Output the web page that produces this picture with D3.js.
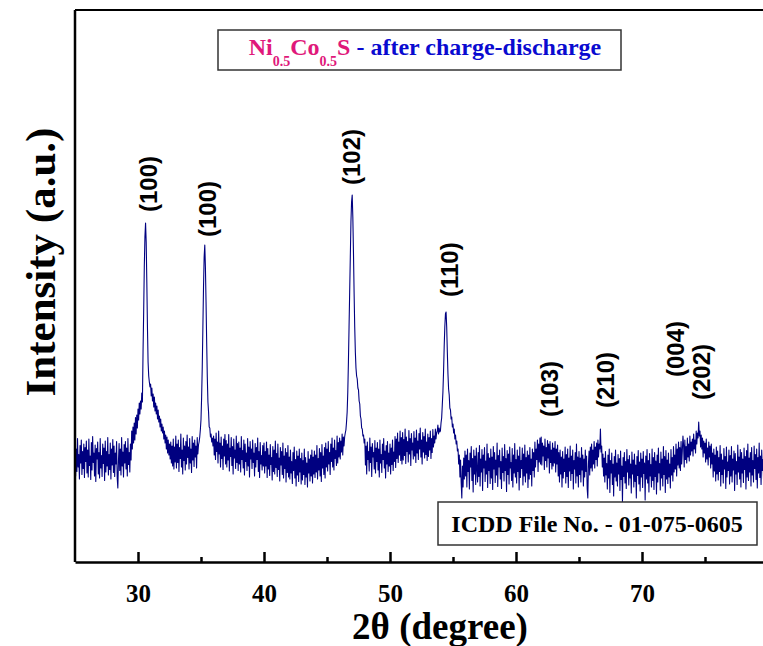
<!DOCTYPE html>
<html>
<head>
<meta charset="utf-8">
<title>XRD Ni0.5Co0.5S after charge-discharge</title>
<script src="https://cdn.jsdelivr.net/npm/d3@7"></script>
<style>
  body { margin: 0; background: #fff; }
  svg { display: block; }
</style>
</head>
<body>
<div id="chart"></div>
<script>
// XRD scan, 2theta from 25 deg in 0.05 deg steps
// one row = one degree
var thetaStart = 25, thetaStep = 0.05;
var intensity = [
  238, 172, 226, 181, 247, 190, 215, 166, 233, 198, 244, 175, 221, 187, 236, 169, 229, 201, 242, 178,
  224, 170, 246, 193, 212, 165, 239, 184, 251, 199, 218, 172, 234, 161, 227, 206, 240, 176, 219, 168,
  247, 188, 213, 171, 236, 197, 228, 163, 242, 180, 221, 192, 249, 174, 215, 185, 238, 166, 226, 194,
  245, 179, 232, 171, 218, 196, 241, 168, 148, 202, 237, 183, 226, 174, 249, 192, 220, 170, 235, 198,
  241, 186, 228, 172, 247, 195, 219, 180, 236, 204, 262, 226, 270, 238, 278, 244, 289, 256, 294, 268,
  306, 284, 318, 296, 322, 306, 338, 320, 420, 500, 590, 650, 678, 640, 560, 470, 400, 372, 360, 350,
  356, 332, 348, 322, 336, 310, 330, 302, 318, 296, 312, 286, 304, 280, 292, 270, 286, 262, 276, 258,
  270, 246, 262, 238, 254, 226, 250, 218, 244, 214, 236, 206, 240, 198, 232, 192, 246, 186, 230, 200,
  252, 188, 236, 199, 244, 181, 229, 207, 256, 190, 224, 176, 248, 203, 232, 184, 241, 196, 254, 209,
  230, 186, 247, 198, 226, 179, 251, 204, 238, 191, 244, 210, 232, 188, 249, 216, 234, 240, 250, 265,
  285, 330, 390, 470, 550, 610, 634, 590, 520, 440, 370, 320, 300, 270, 268, 250, 256, 240, 248, 232,
  252, 214, 246, 205, 258, 221, 240, 198, 262, 216, 238, 190, 250, 207, 232, 185, 246, 212, 255, 196,
  243, 190, 236, 204, 255, 182, 228, 211, 249, 193, 231, 176, 246, 208, 224, 187, 252, 199, 237, 183,
  240, 196, 228, 180, 251, 205, 223, 188, 244, 174, 236, 201, 218, 183, 247, 192, 230, 170, 241, 206,
  226, 187, 244, 199, 218, 172, 237, 190, 229, 205, 248, 181, 221, 169, 239, 196, 213, 184, 233, 192,
  238, 178, 221, 192, 240, 169, 227, 186, 214, 173, 235, 195, 209, 164, 231, 181, 224, 176, 242, 189,
  217, 171, 236, 185, 208, 162, 229, 194, 221, 175, 238, 168, 212, 187, 227, 160, 219, 179, 233, 170,
  210, 166, 224, 178, 201, 157, 219, 183, 230, 168, 205, 152, 222, 174, 212, 161, 226, 180, 207, 156,
  218, 164, 203, 175, 226, 155, 209, 170, 198, 150, 221, 178, 206, 162, 214, 172, 224, 158, 210, 176,
  222, 169, 214, 180, 233, 166, 207, 184, 227, 172, 219, 161, 235, 188, 212, 175, 229, 168, 238, 190,
  226, 182, 241, 196, 219, 175, 236, 201, 248, 190, 228, 184, 244, 207, 223, 193, 252, 198, 239, 210,
  248, 206, 242, 220, 256, 214, 250, 232, 250, 258, 264, 280, 300, 340, 400, 470, 540, 610, 680, 720,
  734, 690, 620, 540, 470, 420, 388, 372, 366, 348, 344, 322, 316, 292, 286, 268, 266, 252, 254, 238,
  246, 194, 232, 176, 240, 205, 221, 182, 248, 199, 230, 171, 237, 210, 219, 186, 243, 178, 228, 201,
  239, 184, 226, 170, 244, 198, 215, 179, 236, 205, 247, 188, 222, 168, 233, 196, 241, 181, 218, 192,
  236, 176, 228, 195, 244, 183, 220, 201, 251, 189, 246, 207, 258, 199, 240, 214, 262, 203, 249, 196,
  259, 204, 245, 213, 266, 197, 250, 221, 241, 200, 263, 216, 247, 193, 257, 224, 238, 206, 261, 212,
  248, 199, 264, 218, 242, 205, 257, 226, 268, 210, 244, 196, 259, 220, 251, 208, 266, 215, 240, 203,
  256, 211, 249, 224, 262, 207, 247, 219, 265, 230, 252, 238, 266, 246, 258, 262, 274, 256, 268, 260,
  262, 278, 288, 314, 340, 380, 430, 470, 496, 500, 470, 420, 376, 346, 334, 308, 304, 286, 290, 270,
  276, 258, 266, 246, 254, 236, 242, 222, 226, 196, 214, 170, 204, 158, 128, 192, 150, 208, 166, 222,
  172, 214, 150, 226, 181, 203, 146, 218, 190, 231, 163, 207, 140, 224, 176, 212, 155, 228, 185, 160,
  219, 171, 233, 152, 206, 180, 225, 143, 214, 188, 229, 161, 202, 176, 236, 149, 217, 183, 208, 157,
  226, 168, 210, 145, 231, 186, 219, 159, 204, 174, 238, 151, 213, 190, 224, 166, 201, 147, 228, 179,
  211, 162, 235, 183, 207, 141, 223, 175, 216, 156, 230, 188, 199, 163, 227, 150, 214, 178, 237, 170,
  205, 158, 224, 181, 212, 144, 230, 169, 203, 187, 228, 154, 216, 172, 234, 160, 209, 178, 222, 149,
  214, 166, 229, 175, 206, 152, 226, 183, 219, 170, 240, 190, 226, 205, 244, 181, 236, 200, 248, 196,
  250, 194, 238, 212, 232, 185, 246, 203, 229, 190, 243, 208, 236, 178, 241, 199, 224, 186, 238, 192,
  228, 198, 241, 180, 226, 196, 234, 172, 219, 160, 224, 176, 210, 150, 221, 168, 206, 181, 230, 158,
  215, 171, 226, 149, 208, 182, 232, 163, 212, 177, 224, 146, 203, 186, 219, 158, 236, 172, 210, 150,
  221, 175, 208, 160, 229, 184, 214, 152, 206, 170, 224, 181, 212, 146, 128, 196, 222, 174, 230, 188,
  236, 182, 224, 196, 241, 188, 230, 205, 238, 192, 244, 210, 236, 226, 266, 220, 232, 190, 216, 172,
  208, 160, 221, 174, 197, 146, 214, 168, 226, 139, 203, 178, 218, 155, 196, 132, 211, 170, 224, 162,
  198, 152, 215, 176, 207, 143, 222, 165, 192, 120, 209, 171, 219, 158, 201, 147, 225, 180, 205, 154,
  213, 168, 196, 138, 220, 176, 204, 150, 216, 161, 194, 128, 211, 173, 223, 156, 200, 142, 218, 170,
  206, 149, 221, 177, 198, 124, 212, 166, 225, 158, 203, 140, 217, 172, 195, 150, 226, 163, 209, 145,
  219, 171, 202, 136, 214, 160, 228, 178, 197, 144, 220, 168, 206, 152, 231, 175, 211, 139, 223, 166,
  204, 157, 218, 170, 196, 148, 225, 174, 209, 162, 231, 180, 214, 186, 236, 172, 226, 194, 240, 188,
  229, 183, 241, 196, 222, 252, 234, 190, 244, 205, 231, 198, 248, 210, 236, 202, 252, 214, 240, 222,
  246, 212, 256, 226, 244, 218, 262, 236, 258, 248, 280, 252, 262, 230, 254, 226, 248, 210, 242, 218,
  238, 200, 246, 206, 228, 194, 240, 210, 232, 188, 236, 196, 218, 170, 226, 182, 214, 162, 230, 176,
  222, 164, 209, 181, 233, 152, 216, 175, 204, 158, 227, 186, 211, 147, 230, 170, 200, 183, 224, 156,
  213, 172, 231, 160, 206, 184, 222, 143, 217, 176, 201, 155, 234, 180, 210, 166, 225, 150, 219, 178,
  206, 159, 228, 185, 211, 146, 223, 170, 236, 163, 208, 180, 219, 152, 229, 174, 203, 160, 232, 187,
  215, 165, 226, 148, 209, 178, 238, 169, 212, 155, 224, 183, 205, 161, 230, 172, 218, 150, 227, 181
];

// reflections marked on the plot (label anchor in data units)
var hkl = ["(100)", "(100)", "(102)", "(110)", "(103)", "(210)", "(004)", "(202)"];
var hklTheta = [30.87, 35.48, 46.98, 54.76, 62.62, 67.14, 72.62, 74.76];
var hklLabelI = [700, 650, 754, 530, 290, 308, 370, 324];

var majorTicks = [30, 40, 50, 60, 70];
var minorTicks = [35, 45, 55, 65, 75];

var width = 763, height = 646;
var mLeft = 75, mTop = 10, mBottom = 562, mRight = 768;

var data = intensity.map(function(v, i) {
  return { t: thetaStart + i * thetaStep, v: v };
});

var x = d3.scaleLinear().domain([25, 80]).range([mLeft, mRight]);
var y = d3.scaleLinear().domain([0, 1104]).range([mBottom, mTop]);

var svg = d3.select('#chart').append('svg')
  .attr('width', width)
  .attr('height', height);

svg.append('rect').attr('width', width).attr('height', height).attr('fill', '#fff');

svg.append('clipPath').attr('id', 'clip')
  .append('rect')
  .attr('x', mLeft).attr('y', mTop)
  .attr('width', mRight - mLeft).attr('height', mBottom - mTop);

var line = d3.line()
  .x(function(d) { return x(d.t); })
  .y(function(d) { return y(d.v); });

svg.append('path')
  .datum(data)
  .attr('clip-path', 'url(#clip)')
  .attr('d', line)
  .attr('fill', 'none')
  .attr('stroke', '#000080')
  .attr('stroke-width', 1.1)
  .attr('stroke-linejoin', 'round');

// frame: left, top
svg.append('line')
  .attr('x1', mLeft).attr('x2', mLeft).attr('y1', mTop).attr('y2', mBottom)
  .attr('stroke', '#000').attr('stroke-width', 2.5);
svg.append('line')
  .attr('x1', mLeft).attr('x2', width).attr('y1', mTop).attr('y2', mTop)
  .attr('stroke', '#000').attr('stroke-width', 2);

// bottom axis with inward ticks
var xAxis = svg.append('g')
  .attr('transform', 'translate(0,' + mBottom + ')')
  .call(d3.axisBottom(x).tickValues(majorTicks).tickSizeInner(-10).tickSizeOuter(0).tickFormat(d3.format('d')));
xAxis.select('.domain').attr('stroke-width', 2.5);
xAxis.selectAll('.tick line').attr('stroke-width', 2.5);
xAxis.selectAll('.tick text')
  .attr('y', 40).attr('dy', 0)
  .style('font-family', '"Liberation Serif", "Times New Roman", serif')
  .style('font-weight', 'bold')
  .style('font-size', '25px')
  .attr('fill', '#000');

var xMinor = svg.append('g')
  .attr('transform', 'translate(0,' + mBottom + ')')
  .call(d3.axisBottom(x).tickValues(minorTicks).tickSizeInner(-5).tickSizeOuter(0).tickFormat(''));
xMinor.select('.domain').remove();
xMinor.selectAll('.tick line').attr('stroke-width', 2.5);

// axis titles
svg.append('text')
  .attr('x', 440).attr('y', 639)
  .attr('text-anchor', 'middle')
  .style('font-family', '"Liberation Serif", "Times New Roman", serif')
  .style('font-weight', 'bold')
  .style('font-size', '37px')
  .text('2θ (degree)');

svg.append('text')
  .attr('transform', 'translate(55,262) rotate(-90)')
  .attr('text-anchor', 'middle')
  .style('font-family', '"Liberation Serif", "Times New Roman", serif')
  .style('font-weight', 'bold')
  .style('font-size', '43px')
  .text('Intensity (a.u.)');

// hkl labels
svg.selectAll('.hkl')
  .data(hkl)
  .enter().append('text')
  .attr('class', 'hkl')
  .attr('transform', function(d, i) {
    return 'translate(' + x(hklTheta[i]) + ',' + y(hklLabelI[i]) + ') rotate(-90)';
  })
  .attr('dominant-baseline', 'central')
  .style('font-family', '"Liberation Sans", Arial, sans-serif')
  .style('font-weight', 'bold')
  .style('font-size', '24px')
  .text(function(d) { return d; });

// title box
svg.append('rect')
  .attr('x', 218).attr('y', 30).attr('width', 403).attr('height', 40)
  .attr('fill', '#fff').attr('stroke', '#333').attr('stroke-width', 1.5);

var title = svg.append('text')
  .attr('x', 425).attr('y', 55)
  .attr('text-anchor', 'middle')
  .style('font-family', '"Liberation Serif", "Times New Roman", serif')
  .style('font-weight', 'bold')
  .style('font-size', '24px');
var pink = '#e0187a', blue = '#0a0ad0';
title.append('tspan').attr('fill', pink).text('Ni');
title.append('tspan').attr('fill', pink).attr('dy', 11).style('font-size', '14px').text('0.5');
title.append('tspan').attr('fill', pink).attr('dy', -11).text('Co');
title.append('tspan').attr('fill', pink).attr('dy', 11).style('font-size', '14px').text('0.5');
title.append('tspan').attr('fill', pink).attr('dy', -11).text('S');
title.append('tspan').attr('fill', blue).text(' - after charge-discharge');

// ICDD box
svg.append('rect')
  .attr('x', 438).attr('y', 502).attr('width', 319).attr('height', 43)
  .attr('fill', '#fff').attr('stroke', '#333').attr('stroke-width', 1.5);
svg.append('text')
  .attr('x', 597).attr('y', 532)
  .attr('text-anchor', 'middle')
  .style('font-family', '"Liberation Serif", "Times New Roman", serif')
  .style('font-weight', 'bold')
  .style('font-size', '24px')
  .text('ICDD File No. - 01-075-0605');
</script>
</body>
</html>
